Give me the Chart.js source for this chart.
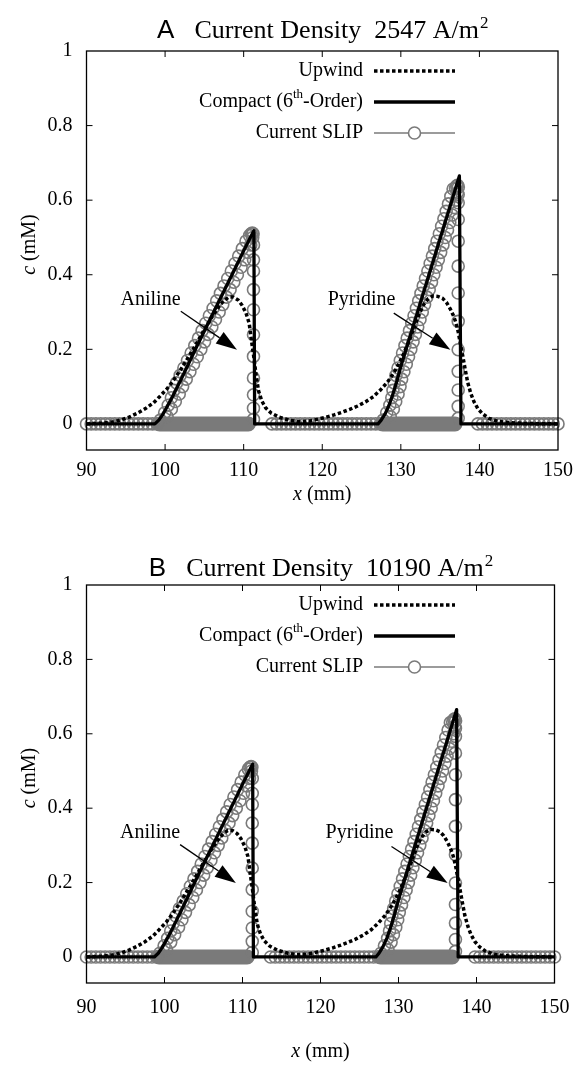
<!DOCTYPE html>
<html>
<head>
<meta charset="utf-8">
<script src="https://cdn.jsdelivr.net/npm/chart.js@4.4.2/dist/chart.umd.min.js"></script>
<style>
  html, body { margin: 0; padding: 0; background: #fff; }
  #wrap { position: relative; width: 582px; height: 1065px; }
  canvas { position: absolute; left: 0; }
</style>
</head>
<body>
<div id="wrap">
  <canvas id="chartA" width="582" height="520" style="top:0"></canvas>
  <canvas id="chartB" width="582" height="545" style="top:520px"></canvas>
</div>
<script>
const xTicks = [90, 100, 110, 120, 130, 140, 150];
const yTicks = [0, 0.2, 0.4, 0.6, 0.8, 1];

// Upwind (dotted)
const upwind = [
  [90, 0], [92, 0.002], [93.5, 0.006], [94.5, 0.011], [95.5, 0.019], [96.5, 0.029], [97.5, 0.041],
  [98.5, 0.056], [99.3, 0.073], [100.2, 0.093], [101, 0.115], [102, 0.146], [103, 0.18], [104, 0.216],
  [105, 0.253], [106, 0.288], [106.8, 0.313], [107.5, 0.331], [108.1, 0.34], [108.7, 0.34], [109.3, 0.332],
  [109.8, 0.318], [110.3, 0.297], [110.7, 0.27], [111, 0.222], [111.3, 0.178], [111.6, 0.128], [111.9, 0.088],
  [112.3, 0.062], [112.8, 0.043], [113.5, 0.029], [114.5, 0.018], [115.8, 0.01], [117, 0.006],
  [118.5, 0.008], [119.5, 0.013], [120.5, 0.018], [121.5, 0.024], [122.5, 0.031], [123.5, 0.039], [124.5, 0.048],
  [125.5, 0.059], [126.5, 0.073], [127.4, 0.091], [128.3, 0.112], [129.2, 0.14], [130.1, 0.176], [131, 0.22],
  [131.7, 0.258], [132.3, 0.293], [132.9, 0.32], [133.5, 0.336], [134.1, 0.343], [134.7, 0.342], [135.3, 0.337],
  [135.8, 0.326], [136.3, 0.308], [136.7, 0.29], [137, 0.272], [137.3, 0.247], [137.6, 0.213], [137.9, 0.18],
  [138.2, 0.145], [138.5, 0.112], [138.9, 0.082], [139.3, 0.06], [139.8, 0.041], [140.4, 0.027], [141.2, 0.015],
  [142.3, 0.007], [144, 0.003], [146, 0.001], [150, 0]
];

// Compact (6th-order), solid
const compact = [
  [90, 0], [98.7, 0], [99.2, 0.01], [99.7, 0.025], [100.2, 0.044], [100.8, 0.067], [101.5, 0.097], [102, 0.118],
  [103, 0.162], [104, 0.206], [105, 0.249], [106, 0.292], [107, 0.335], [108, 0.378], [109, 0.421], [110, 0.464],
  [111, 0.506], [111.3, 0.518], [111.4, 0],
  [127.1, 0], [127.5, 0.01], [128, 0.027], [128.5, 0.05], [129, 0.08], [129.5, 0.115], [130, 0.154], [131, 0.223],
  [132, 0.291], [133, 0.36], [134, 0.428], [135, 0.497], [136, 0.565], [137, 0.634], [137.45, 0.665], [137.65, 0],
  [150, 0]
];

// Current SLIP circles lying on the baseline (sparse stretches)
const slipBaseX = [
  90, 90.6, 91.2, 91.8, 92.4, 93, 93.6, 94.2, 94.8, 95.4, 96, 96.6, 97.2, 97.8, 98.4, 99,
  113.6, 114.2, 114.8, 115.4, 116, 116.6, 117.2, 117.8, 118.4, 119, 119.6, 120.2, 120.8, 121.4, 122,
  122.6, 123.2, 123.8, 124.4, 125, 125.6, 126.2, 126.8, 127.4,
  139.8, 140.4, 141, 141.6, 142.2, 142.8, 143.4, 144, 144.6, 145.2, 145.8, 146.4, 147, 147.6, 148.2,
  148.8, 149.4, 150
];
// stretches where SLIP circles pile up on the baseline into a solid band: [from, to]
const slipBand = [[99.3, 110.6], [127.7, 136.9]];

const slipAnilineRise = [
  [100.25, 0.02], [100.8, 0.04], [101.3, 0.06], [101.8, 0.08], [102.23, 0.1], [102.69, 0.12], [103.16, 0.14],
  [103.62, 0.16], [104.09, 0.18], [104.55, 0.2], [105.02, 0.22], [105.48, 0.24], [105.95, 0.26], [106.41, 0.28],
  [106.88, 0.3], [107.34, 0.32], [107.81, 0.34], [108.27, 0.36], [108.74, 0.38], [109.2, 0.4], [109.67, 0.42],
  [110.13, 0.44], [110.55, 0.46], [110.9, 0.48], [111.15, 0.5],
  [99.4, 0.01], [99.95, 0.03], [100.4, 0.05], [100.8, 0.07], [101.1, 0.09], [101.46, 0.11], [101.92, 0.13],
  [102.39, 0.15], [102.85, 0.17], [103.32, 0.19], [103.78, 0.21], [104.25, 0.23], [104.71, 0.25], [105.18, 0.27],
  [105.64, 0.29], [106.11, 0.31], [106.57, 0.33], [107.04, 0.35], [107.5, 0.37], [107.97, 0.39], [108.43, 0.41],
  [108.9, 0.43], [109.37, 0.45], [109.83, 0.47], [110.3, 0.49],
  [110.75, 0.505], [110.95, 0.51], [111.1, 0.512], [111.2, 0.51]
];
const slipAnilineDrop = [
  [111.25, 0.48], [111.25, 0.44], [111.25, 0.41], [111.25, 0.36], [111.25, 0.306], [111.25, 0.239],
  [111.25, 0.181], [111.25, 0.123], [111.25, 0.078], [111.25, 0.042], [111.25, 0.012]
];
const slipPyridineRise = [
  [128.65, 0.02], [129.05, 0.04], [129.35, 0.06], [129.65, 0.08], [129.9, 0.1], [130.1, 0.12], [130.39, 0.14],
  [130.69, 0.16], [130.98, 0.18], [131.27, 0.2], [131.56, 0.22], [131.85, 0.24], [132.15, 0.26], [132.44, 0.28],
  [132.73, 0.3], [133.02, 0.32], [133.31, 0.34], [133.61, 0.36], [133.9, 0.38], [134.19, 0.4], [134.48, 0.42],
  [134.77, 0.44], [135.07, 0.46], [135.36, 0.48], [135.65, 0.5], [135.94, 0.52], [136.23, 0.54], [136.53, 0.56],
  [136.82, 0.58], [137.05, 0.6], [137.2, 0.62],
  [127.75, 0.01], [128.2, 0.03], [128.6, 0.05], [128.85, 0.07], [129, 0.09], [129.15, 0.11], [129.38, 0.13],
  [129.64, 0.15], [129.93, 0.17], [130.22, 0.19], [130.52, 0.21], [130.81, 0.23], [131.1, 0.25], [131.39, 0.27],
  [131.68, 0.29], [131.98, 0.31], [132.27, 0.33], [132.56, 0.35], [132.85, 0.37], [133.14, 0.39], [133.44, 0.41],
  [133.73, 0.43], [134.02, 0.45], [134.31, 0.47], [134.6, 0.49], [134.9, 0.51], [135.19, 0.53], [135.48, 0.55],
  [135.77, 0.57], [136.06, 0.59], [136.36, 0.61], [136.65, 0.63],
  [136.95, 0.632], [137.1, 0.638], [137.22, 0.64], [137.32, 0.635]
];
const slipPyridineDrop = [
  [137.3, 0.615], [137.3, 0.593], [137.3, 0.548], [137.3, 0.49], [137.3, 0.423], [137.3, 0.351],
  [137.3, 0.275], [137.3, 0.199], [137.3, 0.141], [137.3, 0.091], [137.3, 0.047], [137.3, 0.015]
];

// text labels with arrows: [label, textX, textY, fromX, fromY, toX, toY]
const labels = [
  ['Aniline', 98.15, 0.333, 102.0, 0.302, 109.15, 0.199],
  ['Pyridine', 125.0, 0.333, 129.1, 0.297, 136.3, 0.199]
];

const SERIF = '"Liberation Serif", "Times New Roman", serif';
const SANS = '"Liberation Sans", Arial, sans-serif';
const GREY = '#7a7a7a';

const toXY = p => ({ x: p[0], y: p[1] });

function arrow(ctx, x1, y1, x2, y2) {
  const ang = Math.atan2(y2 - y1, x2 - x1);
  const len = 21, half = 7;
  const bx = x2 - len * Math.cos(ang), by = y2 - len * Math.sin(ang);
  ctx.beginPath();
  ctx.moveTo(x1, y1);
  ctx.lineTo(bx, by);
  ctx.stroke();
  ctx.beginPath();
  ctx.moveTo(x2, y2);
  ctx.lineTo(bx + half * Math.sin(ang), by - half * Math.cos(ang));
  ctx.lineTo(bx - half * Math.sin(ang), by + half * Math.cos(ang));
  ctx.closePath();
  ctx.fill();
}

const decor = {
  id: 'decor',
  afterDraw(chart, args, o) {
    const { ctx, chartArea: a, scales: { x, y } } = chart;
    ctx.save();
    ctx.strokeStyle = '#000';
    ctx.fillStyle = '#000';

    // frame + inward ticks
    ctx.lineWidth = 1.3;
    ctx.strokeRect(a.left, a.top, a.right - a.left, a.bottom - a.top);
    ctx.lineWidth = 1;
    ctx.beginPath();
    xTicks.slice(1, -1).forEach(v => {
      const px = x.getPixelForValue(v);
      ctx.moveTo(px, a.bottom); ctx.lineTo(px, a.bottom - 6);
      ctx.moveTo(px, a.top); ctx.lineTo(px, a.top + 6);
    });
    yTicks.slice(0, -1).forEach(v => {
      const py = y.getPixelForValue(v);
      ctx.moveTo(a.left, py); ctx.lineTo(a.left + 6, py);
      ctx.moveTo(a.right, py); ctx.lineTo(a.right - 6, py);
    });
    ctx.stroke();

    // title
    const cx = (a.left + a.right) / 2;
    const main = 'Current Density  ' + o.density + ' A/m';
    ctx.textBaseline = 'alphabetic';
    ctx.textAlign = 'left';
    ctx.font = '26px ' + SANS;
    const wL = ctx.measureText(o.letter).width;
    ctx.font = '26px ' + SERIF;
    const wM = ctx.measureText(main).width;
    ctx.font = '17px ' + SERIF;
    const wS = ctx.measureText('2').width;
    let tx = cx - (wL + 20 + wM + wS) / 2;
    ctx.font = '26px ' + SANS;
    ctx.fillText(o.letter, tx, o.titleY);
    tx += wL + 20;
    ctx.font = '26px ' + SERIF;
    ctx.fillText(main, tx, o.titleY);
    ctx.font = '17px ' + SERIF;
    ctx.fillText('2', tx + wM + 1, o.titleY - 10);

    // legend
    const rows = [a.top + 20, a.top + 51, a.top + 82];
    const tr = 363, s1 = 374, s2 = 455;
    ctx.textBaseline = 'middle';
    ctx.textAlign = 'right';
    ctx.font = '20px ' + SERIF;
    ctx.fillText('Upwind', tr, rows[0]);
    ctx.fillText('Current SLIP', tr, rows[2]);
    ctx.textAlign = 'left';
    const p1 = 'Compact (6', p2 = 'th', p3 = '-Order)';
    const w1 = ctx.measureText(p1).width, w3 = ctx.measureText(p3).width;
    ctx.font = '13px ' + SERIF;
    const w2 = ctx.measureText(p2).width;
    let lx = tr - w1 - w2 - w3;
    ctx.font = '20px ' + SERIF;
    ctx.fillText(p1, lx, rows[1]);
    ctx.font = '13px ' + SERIF;
    ctx.fillText(p2, lx + w1, rows[1] - 7);
    ctx.font = '20px ' + SERIF;
    ctx.fillText(p3, lx + w1 + w2, rows[1]);

    ctx.lineWidth = 3.5;
    ctx.setLineDash([3.5, 2.5]);
    ctx.beginPath(); ctx.moveTo(s1, rows[0]); ctx.lineTo(s2, rows[0]); ctx.stroke();
    ctx.setLineDash([]);
    ctx.lineWidth = 3.3;
    ctx.beginPath(); ctx.moveTo(s1, rows[1]); ctx.lineTo(s2, rows[1]); ctx.stroke();
    ctx.strokeStyle = GREY;
    ctx.lineWidth = 1.5;
    ctx.beginPath(); ctx.moveTo(s1, rows[2]); ctx.lineTo(s2, rows[2]); ctx.stroke();
    ctx.lineWidth = 1.6;
    ctx.fillStyle = '#fff';
    ctx.beginPath(); ctx.arc((s1 + s2) / 2, rows[2], 6, 0, Math.PI * 2); ctx.fill(); ctx.stroke();

    // axis titles
    ctx.fillStyle = '#000';
    ctx.strokeStyle = '#000';
    ctx.textBaseline = 'middle';
    ctx.textAlign = 'left';
    ctx.font = 'italic 20px ' + SERIF;
    const wx = ctx.measureText('x').width;
    ctx.font = '20px ' + SERIF;
    const wmm = ctx.measureText(' (mm)').width;
    let ax = cx - (wx + wmm) / 2;
    ctx.font = 'italic 20px ' + SERIF;
    ctx.fillText('x', ax, o.xTitleY);
    ctx.font = '20px ' + SERIF;
    ctx.fillText(' (mm)', ax + wx, o.xTitleY);

    ctx.save();
    ctx.translate(30, (a.top + a.bottom) / 2 - 6);
    ctx.rotate(-Math.PI / 2);
    ctx.font = 'italic 20px ' + SERIF;
    const wc = ctx.measureText('c').width;
    ctx.font = '20px ' + SERIF;
    const wmM = ctx.measureText(' (mM)').width;
    ax = -(wc + wmM) / 2;
    ctx.font = 'italic 20px ' + SERIF;
    ctx.fillText('c', ax, 0);
    ctx.font = '20px ' + SERIF;
    ctx.fillText(' (mM)', ax + wc, 0);
    ctx.restore();

    // species labels with arrows
    ctx.lineWidth = 1.3;
    ctx.textAlign = 'center';
    ctx.font = '20px ' + SERIF;
    labels.forEach(([t, lxv, lyv, fx, fy, txv, tyv]) => {
      ctx.fillText(t, x.getPixelForValue(lxv), y.getPixelForValue(lyv));
      arrow(ctx, x.getPixelForValue(fx), y.getPixelForValue(fy), x.getPixelForValue(txv), y.getPixelForValue(tyv));
    });
    ctx.restore();
  }
};

function makeChart(id, o) {
  const slipPoints = slipBaseX.map(v => ({ x: v, y: 0 }))
    .concat(slipAnilineRise.map(toXY), slipAnilineDrop.map(toXY),
            slipPyridineRise.map(toXY), slipPyridineDrop.map(toXY));
  const bandPoints = [];
  slipBand.forEach(([a, b], i) => {
    if (i > 0) bandPoints.push({ x: (slipBand[i - 1][1] + a) / 2, y: null });
    bandPoints.push({ x: a, y: 0 }, { x: b, y: 0 });
  });
  return new Chart(document.getElementById(id), {
    type: 'line',
    data: {
      datasets: [
        {
          label: 'Compact (6th-Order)',
          data: compact.map(toXY),
          borderColor: '#000',
          borderWidth: 3.3,
          borderJoinStyle: 'round',
          pointRadius: 0,
          tension: 0,
          clip: false,
          order: 0
        },
        {
          label: 'Upwind',
          data: upwind.map(toXY),
          borderColor: '#000',
          borderWidth: 3.5,
          borderDash: [3.5, 2.5],
          pointRadius: 0,
          tension: 0,
          clip: false,
          order: 1
        },
        {
          label: 'Current SLIP',
          data: slipPoints,
          showLine: false,
          pointRadius: 6,
          pointBorderWidth: 1.6,
          pointBorderColor: GREY,
          pointBackgroundColor: 'rgba(0,0,0,0)',
          clip: false,
          order: 2
        },
        {
          label: 'Current SLIP band',
          data: bandPoints,
          borderColor: GREY,
          borderWidth: 15,
          borderCapStyle: 'round',
          spanGaps: false,
          pointRadius: 0,
          tension: 0,
          clip: false,
          order: 3
        }
      ]
    },
    options: {
      responsive: false,
      animation: false,
      events: [],
      layout: { padding: { top: o.plotTop, right: 20, left: 0, bottom: 0 } },
      plugins: {
        legend: { display: false },
        tooltip: { enabled: false },
        decor: o
      },
      scales: {
        x: {
          type: 'linear',
          min: 90,
          max: 150,
          afterBuildTicks: s => { s.ticks = xTicks.map(v => ({ value: v })); },
          afterFit: s => { s.height = o.xAxisH; },
          grid: { display: false, drawTicks: false },
          border: { display: false },
          ticks: {
            autoSkip: false,
            maxRotation: 0,
            padding: o.xPad,
            color: '#000',
            font: { family: SERIF, size: 20 },
            callback: v => String(v)
          }
        },
        y: {
          type: 'linear',
          min: -0.07,
          max: 1,
          afterBuildTicks: s => { s.ticks = yTicks.map(v => ({ value: v })); },
          afterFit: s => { s.width = 86.5; },
          grid: { display: false, drawTicks: false },
          border: { display: false },
          ticks: {
            padding: 14,
            color: '#000',
            font: { family: SERIF, size: 20 },
            callback: v => String(v)
          }
        }
      }
    },
    plugins: [decor]
  });
}

makeChart('chartA', { letter: 'A', density: '2547', titleY: 38, plotTop: 51, xAxisH: 70, xPad: 9, xTitleY: 495 });
makeChart('chartB', { letter: 'B', density: '10190', titleY: 56, plotTop: 65, xAxisH: 82, xPad: 12.5, xTitleY: 532 });
</script>
</body>
</html>
